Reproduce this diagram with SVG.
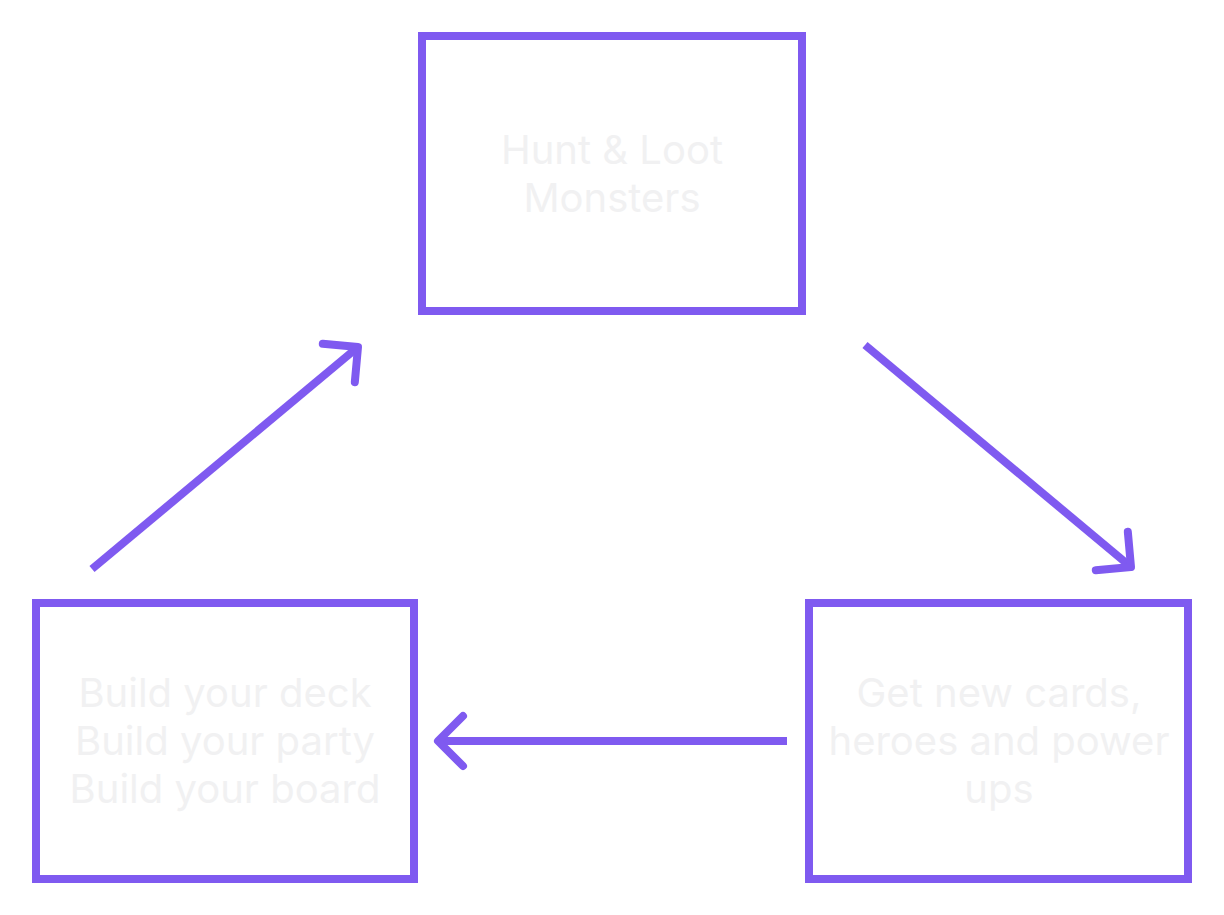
<svg xmlns="http://www.w3.org/2000/svg" width="1224" height="915" viewBox="0 0 1224 915">
  <style>
    .box { fill: #ffffff; stroke: #7f5af0; stroke-width: 8; }
    .label { font-family: Inter, "Liberation Sans", sans-serif; font-size: 40px; fill: #f1f1f2; text-anchor: middle; }
    .conn { fill: none; stroke: #7f5af0; stroke-width: 8; stroke-linecap: butt; }
  </style>
  <defs>
    <marker id="chev" markerUnits="userSpaceOnUse" orient="auto" refX="0" refY="0" markerWidth="60" markerHeight="60" overflow="visible">
      <path d="M -25 -25 L 0 0 L -25 25" fill="none" stroke="#7f5af0" stroke-width="8" stroke-linecap="round" stroke-linejoin="round"/>
    </marker>
  </defs>
  <rect width="1224" height="915" fill="#ffffff"/>
  <g id="hunt">
    <rect class="box" x="422" y="36" width="380" height="275"/>
    <text class="label" x="612" y="164">Hunt &amp; Loot</text>
    <text class="label" x="612" y="212">Monsters</text>
  </g>
  <g id="get">
    <rect class="box" x="809" y="603" width="379" height="276"/>
    <text class="label" x="999" y="707">Get new cards,</text>
    <text class="label" x="999" y="755">heroes and power</text>
    <text class="label" x="999" y="803">ups</text>
  </g>
  <g id="build">
    <rect class="box" x="36" y="603" width="378" height="276"/>
    <text class="label" x="225" y="707">Build your deck</text>
    <text class="label" x="225" y="755">Build your party</text>
    <text class="label" x="225" y="803">Build your board</text>
  </g>
  <g id="connectors">
    <path class="conn" d="M 865 345 L 1131 567" marker-end="url(#chev)"/>
    <path class="conn" d="M 787 741 L 438 741" marker-end="url(#chev)"/>
    <path class="conn" d="M 92 569 L 358 347" marker-end="url(#chev)"/>
  </g>
</svg>
